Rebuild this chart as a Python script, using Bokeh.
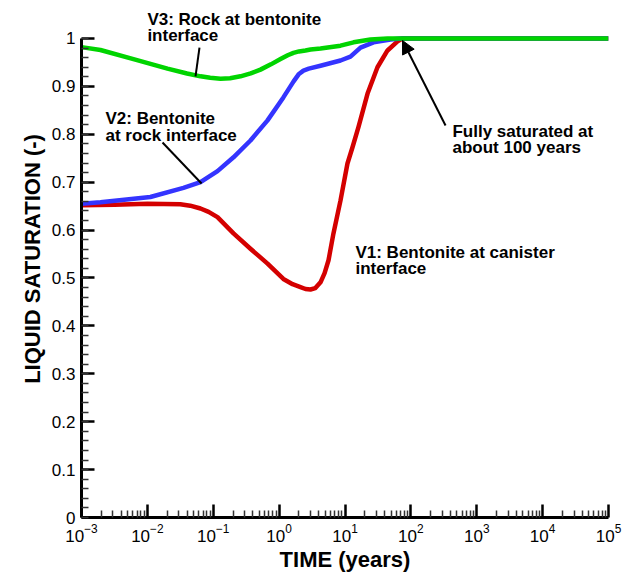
from bokeh.plotting import figure
from bokeh.models import (FixedTicker, Label, Arrow, NormalHead, LogTickFormatter)
from bokeh.embed import file_html
from bokeh.resources import INLINE

# ---- data ----
v1_time = [0.001, 0.00316, 0.01, 0.0316, 0.0447, 0.064, 0.085, 0.116, 0.203, 0.367,
           0.667, 1.16, 1.6, 2.11, 2.51, 2.99, 3.55, 4.25, 4.90, 5.62, 6.68, 8.55,
           10.9, 13.0, 16.0, 22.0, 31.1, 44.2, 62.7, 74.6, 100, 1000, 10000, 100000]
v1_sat = [0.652, 0.653, 0.655, 0.654, 0.651, 0.645, 0.638, 0.627, 0.593, 0.561,
          0.530, 0.498, 0.487, 0.481, 0.477, 0.476, 0.479, 0.491, 0.510, 0.537, 0.593,
          0.662, 0.739, 0.773, 0.815, 0.885, 0.940, 0.975, 0.994, 1.0, 1.0, 1.0, 1.0, 1.0]

v2_time = [0.001, 0.00194, 0.0111, 0.0353, 0.064, 0.116, 0.203, 0.367, 0.667, 1.16,
           1.65, 2.0, 2.34, 2.82, 4.25, 8.55, 12.1, 17.2, 27.1, 49.1, 69.7, 100,
           1000, 10000, 100000]
v2_sat = [0.655, 0.658, 0.669, 0.688, 0.700, 0.723, 0.752, 0.787, 0.829, 0.877,
          0.910, 0.926, 0.933, 0.937, 0.943, 0.954, 0.962, 0.981, 0.992, 0.998, 1.0,
          1.0, 1.0, 1.0, 1.0]

v3_time = [0.001, 0.00194, 0.00615, 0.0202, 0.04, 0.064, 0.09, 0.129, 0.18, 0.259,
           0.37, 0.521, 0.75, 1.05, 1.35, 1.65, 2.0, 2.51, 3.0, 4.25, 8.55, 13.5,
           24.4, 44.2, 100, 1000, 10000, 100000]
v3_sat = [0.982, 0.976, 0.957, 0.937, 0.927, 0.921, 0.918, 0.916, 0.917, 0.921,
          0.927, 0.935, 0.946, 0.957, 0.965, 0.970, 0.973, 0.975, 0.977, 0.979, 0.985,
          0.992, 0.998, 1.0, 1.0, 1.0, 1.0, 1.0]

x_ticks = [1e-3, 1e-2, 1e-1, 1e0, 1e1, 1e2, 1e3, 1e4, 1e5]
y_ticks = [0, 0.1, 0.2, 0.3, 0.4, 0.5, 0.6, 0.7, 0.8, 0.9, 1]
y_tick_labels = ["0", "0.1", "0.2", "0.3", "0.4", "0.5", "0.6", "0.7", "0.8", "0.9", "1"]

FONT = "Liberation Sans"

p = figure(width=625, height=576, x_axis_type="log",
           x_range=(1e-3, 1e5), y_range=(0, 1.0793),
           output_backend="svg", toolbar_location=None,
           min_border_left=81, min_border_right=17, min_border_top=0, min_border_bottom=59)
p.outline_line_color = None
p.xgrid.visible = False
p.ygrid.visible = False
p.background_fill_color = "white"
p.border_fill_color = "white"

# ticks
x_minor = [k * d for d in x_ticks[:-1] for k in range(2, 10)]
p.xaxis.ticker = FixedTicker(ticks=x_ticks, minor_ticks=x_minor)
p.xaxis.formatter = LogTickFormatter()
y_minor = [round(i * 0.02, 2) for i in range(51)]
p.yaxis.ticker = FixedTicker(ticks=y_ticks, minor_ticks=y_minor)
p.yaxis.major_label_overrides = {t: l for t, l in zip(y_ticks, y_tick_labels)}
p.yaxis.bounds = (0, 1)

for ax in (p.xaxis[0], p.yaxis[0]):
    ax.axis_line_width = 3
    ax.axis_line_color = "black"
    ax.major_tick_in = 13
    ax.major_tick_out = 0
    ax.minor_tick_in = 7
    ax.minor_tick_out = 0
    ax.major_tick_line_width = 2.5
    ax.minor_tick_line_width = 1.5
    ax.major_tick_line_color = "black"
    ax.minor_tick_line_color = "#333333"
    ax.major_label_text_font = FONT
    ax.major_label_text_font_size = "17px"
    ax.major_label_text_color = "black"
    ax.axis_label_text_font = FONT
    ax.axis_label_text_font_style = "bold"
    ax.axis_label_text_font_size = "22px"
    ax.axis_label_text_color = "black"

p.xaxis.axis_label = "TIME (years)"
p.yaxis.axis_label = "LIQUID SATURATION (-)"
p.xaxis.major_label_standoff = 6
p.xaxis.axis_label_standoff = 2
p.yaxis.major_label_standoff = 6
p.yaxis.axis_label_standoff = 4

# curves
p.line(v1_time, v1_sat, line_color="#d40000", line_width=4.5, line_join="round")
p.line(v2_time, v2_sat, line_color="#3434ff", line_width=4.5, line_join="round")
p.line(v3_time, v3_sat, line_color="#00d400", line_width=4.5, line_join="round")

# annotations
def lab(x, y, t):
    p.add_layout(Label(x=x, y=y, text=t, text_font=FONT, text_font_style="bold",
                       text_font_size="17px", text_color="black",
                       text_baseline="alphabetic", text_align="left"))

lab(0.01, 1.0397, "V3: Rock at bentonite")
lab(0.01, 1.0063, "interface")
lab(0.00231, 0.833, "V2: Bentonite")
lab(0.00231, 0.7975, "at rock interface")
lab(14.4, 0.5532, "V1: Bentonite at canister")
lab(14.4, 0.5198, "interface")
lab(428, 0.8058, "Fully saturated at")
lab(428, 0.7724, "about 100 years")

p.segment(x0=[0.0618, 0.01698], y0=[0.981, 0.7829],
          x1=[0.0538, 0.0664], y1=[0.9207, 0.6973],
          line_color="black", line_width=2)
p.add_layout(Arrow(end=NormalHead(size=13, fill_color="black", line_color="black"),
                   x_start=335.7, y_start=0.8184, x_end=74.6, y_end=0.9958,
                   line_color="black", line_width=2))

open("out.html", "w").write(file_html(p, INLINE))
